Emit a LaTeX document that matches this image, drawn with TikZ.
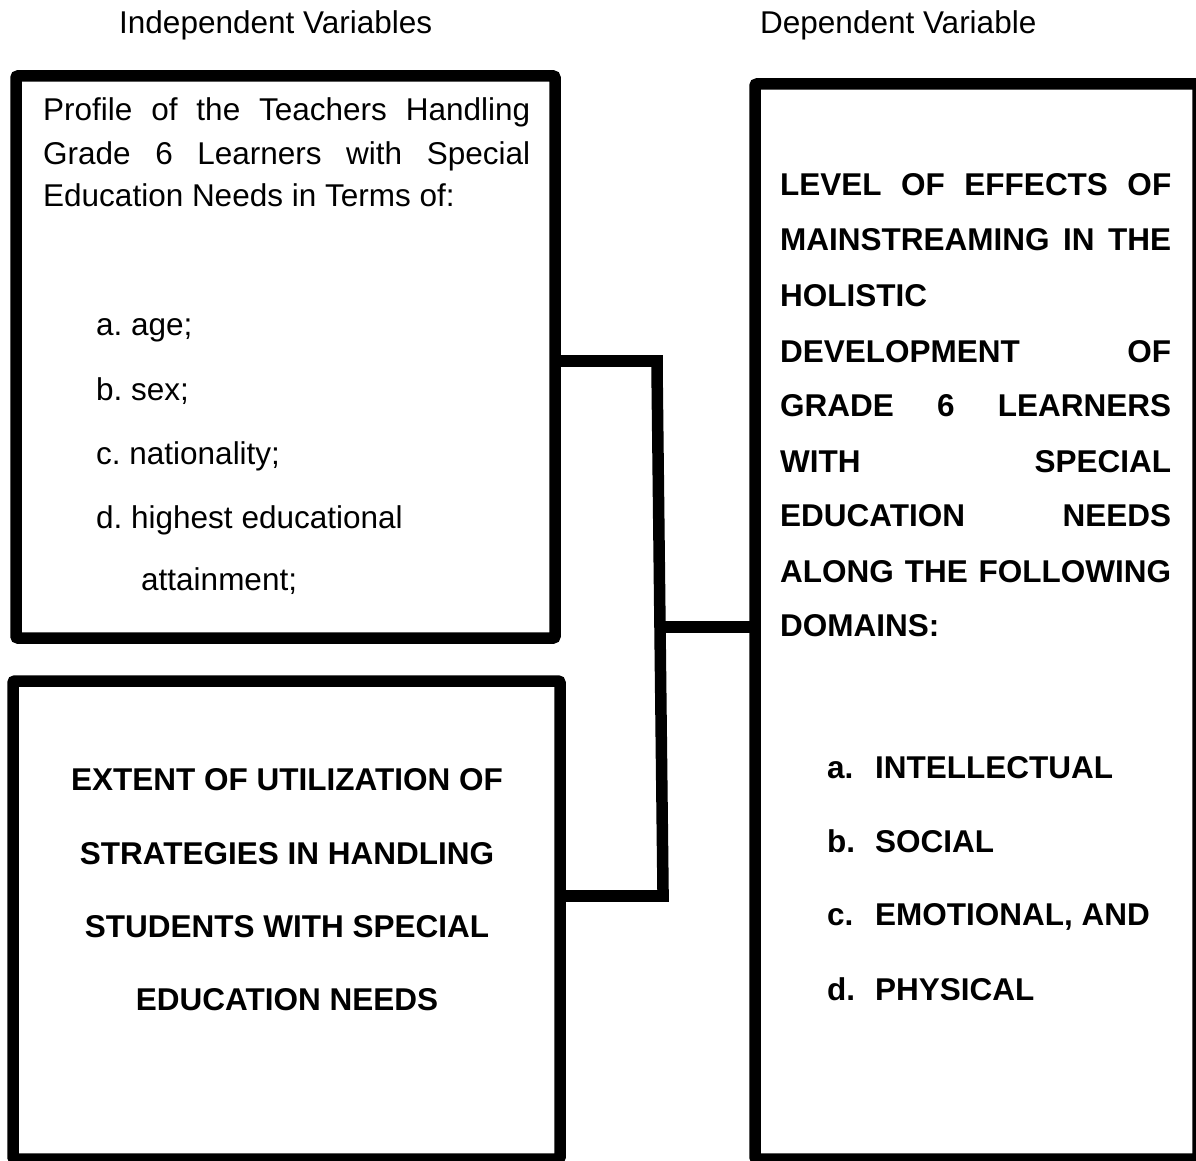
\documentclass[tikz,border=0pt]{standalone}
\usepackage{fontspec}
\setmainfont{Liberation Sans}
\frenchspacing
\begin{document}
\begin{tikzpicture}[x=1pt,y=-1pt,
  frame/.style={draw=black,line width=11.5pt,rounded corners=2pt,inner sep=0pt,
                outer sep=0pt,rectangle,anchor=north west},
  conn/.style={draw=black,line width=11.5pt,line join=miter},
  txt/.style={inner sep=0pt,anchor=base west,font=\fontsize{31.5}{38}\selectfont},
  btxt/.style={txt,font=\fontsize{31.5}{38}\selectfont\bfseries},
  ctxt/.style={btxt,anchor=base}]
\useasboundingbox (0,0) rectangle (1196,1161);

% headings
\node[txt] (hind) at (119,34) {Independent Variables};
\node[txt] (hdep) at (760,34) {Dependent Variable};

% boxes (sizes measured along the border centre line)
\node[frame,minimum width=539pt,minimum height=562pt] (prof) at (16,76) {};
\node[frame,minimum width=547pt,minimum height=478pt] (strat) at (13,681) {};
\node[frame,minimum width=443pt,minimum height=1075pt] (effect) at (755,84) {};

% teacher profile
\node[txt] (p1) at (43,121) {\makebox[487pt][s]{Profile of the Teachers Handling}};
\node[txt] (p2) at (43,165) {\makebox[487pt][s]{Grade 6 Learners with Special}};
\node[txt] (p3) at (43,207) {Education Needs in Terms of:};
\node[txt] (pa) at (96,335) {a. age;};
\node[txt] (pb) at (96,400) {b. sex;};
\node[txt] (pc) at (96,464) {c. nationality;};
\node[txt] (pd) at (96,528) {d. highest educational};
\node[txt] (pe) at (141,590) {attainment;};

% strategies
\node[ctxt] (s1) at (287,790) {EXTENT OF UTILIZATION OF};
\node[ctxt] (s2) at (287,864) {STRATEGIES IN HANDLING};
\node[ctxt] (s3) at (287,937) {STUDENTS WITH SPECIAL};
\node[ctxt] (s4) at (287,1010) {EDUCATION NEEDS};

% dependent variable
\node[btxt] (e1) at (780,196) {\makebox[391pt][s]{LEVEL OF EFFECTS OF}};
\node[btxt] (e2) at (780,250) {\makebox[391pt][s]{MAINSTREAMING IN THE}};
\node[btxt] (e3) at (780,306) {HOLISTIC};
\node[btxt] (e4) at (780,362) {\makebox[391pt][s]{DEVELOPMENT OF}};
\node[btxt] (e5) at (780,416) {\makebox[391pt][s]{GRADE 6 LEARNERS}};
\node[btxt] (e6) at (780,472) {\makebox[391pt][s]{WITH SPECIAL}};
\node[btxt] (e7) at (780,526) {\makebox[391pt][s]{EDUCATION NEEDS}};
\node[btxt] (e8) at (780,582) {\makebox[391pt][s]{ALONG THE FOLLOWING}};
\node[btxt] (e9) at (780,636) {DOMAINS:};
\node[btxt] (da) at (827,778) {\makebox[48pt][l]{a.}INTELLECTUAL};
\node[btxt] (db) at (827,852) {\makebox[48pt][l]{b.}SOCIAL};
\node[btxt] (dc) at (827,925) {\makebox[48pt][l]{c.}EMOTIONAL, AND};
\node[btxt] (dd) at (827,1000) {\makebox[48pt][l]{d.}PHYSICAL};

% connectors
\coordinate (jt) at (657,361);
\coordinate (jm) at (660,627);
\coordinate (jb) at (663,896);
\draw[conn] (prof.east |- jt) -- ([xshift=5.75pt]jt);
\draw[conn] ([yshift=-5.75pt]jt) -- ([yshift=5.75pt]jb);
\draw[conn] (strat.east |- jb) -- ([xshift=5.75pt]jb);
\draw[conn] (jm) -- (effect.west |- jm);
\end{tikzpicture}
\end{document}
